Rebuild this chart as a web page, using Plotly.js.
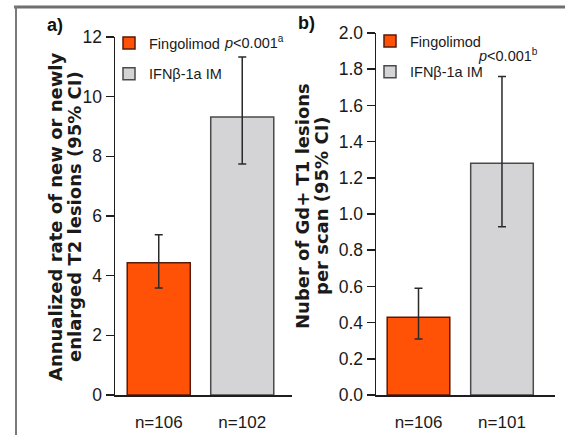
<!DOCTYPE html>
<html>
<head>
<meta charset="utf-8">
<script src="https://cdn.plot.ly/plotly-3.0.1.min.js"></script>
<style>html,body{margin:0;padding:0;background:#fff;}#chart{width:565px;height:435px;}</style>
</head>
<body>
<div id="chart"></div>
<script>
// ---- data ----
const groups = ['Fingolimod', 'IFNβ-1a IM'];
const nLabelsA = ['n=106', 'n=102'];
const rateA = [4.43, 9.32];
const rateALow = [3.59, 7.74];
const rateAHigh = [5.37, 11.33];
const nLabelsB = ['n=106', 'n=101'];
const gdB = [0.43, 1.28];
const gdBLow = [0.31, 0.93];
const gdBHigh = [0.59, 1.76];
const pTextA = '<i>p</i>&lt;0.001<sup>a</sup>';
const pTextB = '<i>p</i>&lt;0.001<sup>b</sup>';
const titleA = ['Annualized rate of new or newly', 'enlarged T2 lesions (95% CI)'];
const titleB = ['Nuber of Gd+ T1 lesions', 'per scan (95% CI)'];

// ---- style ----
const W = 565, H = 435;
const px = x => x / W;
const py = y => 1 - y / H;
const sans = '"Liberation Sans", Arial, sans-serif';
const boldFont = '"DejaVu Sans", sans-serif';
const fillColors = ['#FF5206', '#D4D4D6'];
const lineColors = ['#5a1a08', '#4a4a4a'];

function barTrace(i, cats, vals, lo, hi, xa, ya, leg, width) {
  return {
    type: 'bar', x: [cats[i]], y: [vals[i]], xaxis: xa, yaxis: ya,
    name: groups[i], legend: leg, legendgroup: leg + i,
    width: [width],
    marker: {color: fillColors[i], line: {color: lineColors[i], width: 1.5}},
    error_y: {type: 'data', symmetric: false, array: [hi[i] - vals[i]], arrayminus: [vals[i] - lo[i]],
              color: '#2a2a2a', thickness: 1.5, width: 4},
    hoverinfo: 'skip'
  };
}

const data = [
  barTrace(0, nLabelsA, rateA, rateALow, rateAHigh, 'x', 'y', 'legend', 0.755),
  barTrace(1, nLabelsA, rateA, rateALow, rateAHigh, 'x', 'y', 'legend', 0.755),
  barTrace(0, nLabelsB, gdB, gdBLow, gdBHigh, 'x2', 'y2', 'legend2', 0.75),
  barTrace(1, nLabelsB, gdB, gdBLow, gdBHigh, 'x2', 'y2', 'legend2', 0.75)
];

const xCommon = {
  type: 'category', showline: true, linecolor: '#1e1e1e', linewidth: 1.5,
  ticks: '', showgrid: false, zeroline: false, ticklabelstandoff: 11,
  tickfont: {family: sans, size: 17, color: '#1a1a1a'}, fixedrange: true
};
const yCommon = {
  showline: true, linecolor: '#1e1e1e', linewidth: 1.5, ticks: 'outside', ticklen: 8,
  tickwidth: 1.5, tickcolor: '#1e1e1e', showgrid: false, zeroline: false,
  tickfont: {family: sans, size: 17.5, color: '#1a1a1a'}, fixedrange: true
};
const legCommon = {
  xanchor: 'left', yanchor: 'top', bgcolor: 'rgba(0,0,0,0)',
  font: {family: sans, size: 14.5, color: '#1a1a1a'},
  traceorder: 'grouped', tracegroupgap: 9, itemclick: false, itemdoubleclick: false
};

function ann(text, x, y, font, extra) {
  return Object.assign({text: text, xref: 'paper', yref: 'paper', x: px(x), y: py(y),
    xanchor: 'center', yanchor: 'middle', showarrow: false, font: font}, extra || {});
}
const tFont = {family: boldFont, size: 18, color: '#1a1a1a'};

const layout = {
  width: W, height: H, margin: {l: 0, r: 0, t: 0, b: 0},
  paper_bgcolor: '#fff', plot_bgcolor: 'rgba(0,0,0,0)',
  barmode: 'overlay', showlegend: true,
  xaxis: Object.assign({}, xCommon, {domain: [px(115), px(292)], anchor: 'y',
    categoryorder: 'array', categoryarray: nLabelsA, range: [-0.524, 1.596]}),
  yaxis: Object.assign({}, yCommon, {domain: [py(395), py(37)], anchor: 'x', range: [0, 12], dtick: 2}),
  xaxis2: Object.assign({}, xCommon, {domain: [px(376), px(555)], anchor: 'y2',
    categoryorder: 'array', categoryarray: nLabelsB, range: [-0.509, 1.635]}),
  yaxis2: Object.assign({}, yCommon, {domain: [py(395), py(33)], anchor: 'x2', range: [0, 2], dtick: 0.2, tickformat: '.1f'}),
  legend: Object.assign({}, legCommon, {x: px(109), y: py(27)}),
  legend2: Object.assign({}, legCommon, {x: px(370), y: py(25)}),
  shapes: [
    {type: 'line', xref: 'paper', yref: 'paper', x0: px(14), x1: px(565), y0: py(7), y1: py(7), line: {color: '#6f6f6f', width: 3}},
    {type: 'line', xref: 'paper', yref: 'paper', x0: px(16), x1: px(16), y0: py(6), y1: py(435), line: {color: '#7a7a7a', width: 2}}
  ],
  annotations: [
    ann('<b>a)</b>', 55, 25, {family: sans, size: 18, color: '#111'}),
    ann('<b>b)</b>', 306, 23, {family: sans, size: 18, color: '#111'}),
    ann(pTextA, 254, 42, {family: sans, size: 14.5, color: '#1a1a1a'}),
    ann(pTextB, 508, 55, {family: sans, size: 14.5, color: '#1a1a1a'}),
    ann('<b>' + titleA[0] + '</b>', 55, 217, tFont, {textangle: -90}),
    ann('<b>' + titleA[1] + '</b>', 74, 217, tFont, {textangle: -90}),
    ann('<b>' + titleB[0] + '</b>', 302, 206, tFont, {textangle: -90}),
    ann('<b>' + titleB[1] + '</b>', 321, 206, tFont, {textangle: -90})
  ]
};

Plotly.newPlot('chart', data, layout, {staticPlot: true, displayModeBar: false});
</script>
</body>
</html>
